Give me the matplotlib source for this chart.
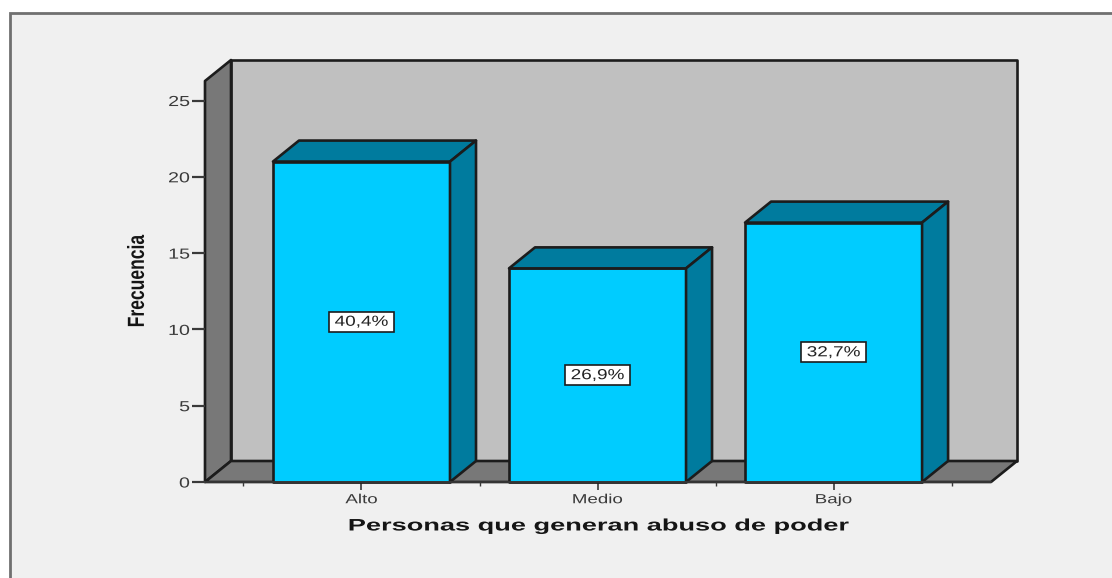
"""
Bar chart with a fake 3D look: frequency by level of abuse of power.
"""

import matplotlib

matplotlib.use("Agg")
import matplotlib.pyplot as plt
from matplotlib.patches import Polygon, Rectangle
from matplotlib.path import Path
from matplotlib.patheffects import AbstractPathEffect
from matplotlib.transforms import Affine2D

categories = ["Alto", "Medio", "Bajo"]
frequencies = [21, 14, 17]
percent_labels = ["40,4%", "26,9%", "32,7%"]
y_ticks = [0, 5, 10, 15, 20, 25]

FIG_W, FIG_H = 1112, 578
BG = "#f0f0f0"
EDGE = "#1c1c1c"
BLUE = "#00ccff"
BLUE_DARK = "#007b9e"
WALL = "#c0c0c0"
SIDE = "#787878"
TICK = "#3a3a3a"


class Stretch(AbstractPathEffect):
    """Widen or narrow drawn text, the source image has stretched glyphs."""

    def __init__(self, sx=1.0, sy=1.0, anchor="center"):
        super().__init__()
        self.sx = sx
        self.sy = sy
        self.anchor = anchor

    def draw_path(self, renderer, gc, tpath, affine, rgbFace=None):
        box = affine.transform_path(tpath).get_extents()
        cx = box.x1 if self.anchor == "right" else (box.x0 + box.x1) / 2
        cy = (box.y0 + box.y1) / 2
        stretch = Affine2D().translate(-cx, -cy).scale(self.sx, self.sy).translate(cx, cy)
        renderer.draw_path(gc, tpath, affine + stretch, rgbFace)


def label_box(x0, y0, width, height, mutation_size):
    # box around the percent labels, wider than the unstretched text
    pad_x = 11.5
    pad_y = 3.0
    left, right = x0 - pad_x, x0 + width + pad_x
    low, high = y0 - pad_y, y0 + height + pad_y
    return Path([(left, low), (right, low), (right, high), (left, high), (left, low)], closed=True)


fig = plt.figure(figsize=(FIG_W / 100, FIG_H / 100), dpi=100, facecolor="white")

# panel behind everything, open on the right and at the bottom
fig.add_artist(Rectangle((10 / FIG_W, -0.05), 1.1, 1.05 - 13 / FIG_H, transform=fig.transFigure,
                         facecolor=BG, edgecolor="#707070", linewidth=2, zorder=-1))

# axes box is the front of the 3D box
ax = fig.add_axes([205 / FIG_W, 1 - 482 / FIG_H, 786 / FIG_W, 401 / FIG_H])
ax.patch.set_visible(False)
ax.set_xlim(-0.663, 2.667)
ax.set_ylim(0, 26.28)

# depth of the 3D effect, in data units
dx = 26 / 236
dy = 21 / 15.26
x0, x1 = ax.get_xlim()
y1 = ax.get_ylim()[1]
bar_w = 0.75


def face(points, color, z):
    ax.add_patch(Polygon(points, closed=True, facecolor=color, edgecolor=EDGE,
                         linewidth=1.9, joinstyle="round", clip_on=False, zorder=z))


# back wall, left side, floor
face([(x0 + dx, dy), (x1 + dx, dy), (x1 + dx, y1 + dy), (x0 + dx, y1 + dy)], WALL, 1)
face([(x0, 0), (x0 + dx, dy), (x0 + dx, y1 + dy), (x0, y1)], SIDE, 1)
face([(x0, 0), (x1, 0), (x1 + dx, dy), (x0 + dx, dy)], SIDE, 1)

for i, (freq, label) in enumerate(zip(frequencies, percent_labels)):
    left, right = i - bar_w / 2, i + bar_w / 2
    face([(left, 0), (right, 0), (right, freq), (left, freq)], BLUE, 3)
    face([(left, freq), (right, freq), (right + dx, freq + dy), (left + dx, freq + dy)], BLUE_DARK, 3)
    face([(right, 0), (right + dx, dy), (right + dx, freq + dy), (right, freq)], BLUE_DARK, 3)
    ax.text(i, freq / 2, label, ha="center", va="center", fontsize=10.5,
            family="Liberation Sans", color="#222222", zorder=4,
            path_effects=[Stretch(1.3)],
            bbox=dict(boxstyle=label_box, facecolor="white", edgecolor=EDGE, linewidth=1.2))

for side in ["top", "right", "left"]:
    ax.spines[side].set_visible(False)
ax.spines["bottom"].set_color(TICK)
ax.spines["bottom"].set_linewidth(1.2)
ax.spines["bottom"].set_zorder(5)

ax.set_yticks(y_ticks)
ax.tick_params(axis="y", length=9.4, width=1.6, color=TICK, labelsize=10.5,
               labelcolor=TICK, pad=1.5)
ax.set_xticks(range(len(categories)))
ax.set_xticklabels(categories)
ax.tick_params(axis="x", length=5.8, width=1.2, color=TICK, labelsize=9.5,
               labelcolor=TICK, pad=3)
ax.set_xticks([i + 0.5 for i in range(-1, len(categories))], minor=True)
ax.tick_params(axis="x", which="minor", length=3, width=1, color=TICK)
for tick in ax.get_yticklabels():
    tick.set_family("Liberation Sans")
    tick.set_path_effects([Stretch(1.35, anchor="right")])
for tick in ax.get_xticklabels():
    tick.set_family("Liberation Sans")
    tick.set_path_effects([Stretch(1.42)])

fig.text(598 / FIG_W, 1 - 526 / FIG_H, "Personas que generan abuso de poder", ha="center", va="center",
         fontsize=12, fontweight="bold", family="Liberation Sans", color="#151515",
         path_effects=[Stretch(1.63)])
fig.text(138 / FIG_W, 1 - 281 / FIG_H, "Frecuencia", rotation=90, ha="center", va="center",
         fontsize=14, fontweight="bold", family="Liberation Sans", color="#151515",
         path_effects=[Stretch(1.2, 0.9)])

fig.savefig("out.png", dpi=100, facecolor=fig.get_facecolor())
